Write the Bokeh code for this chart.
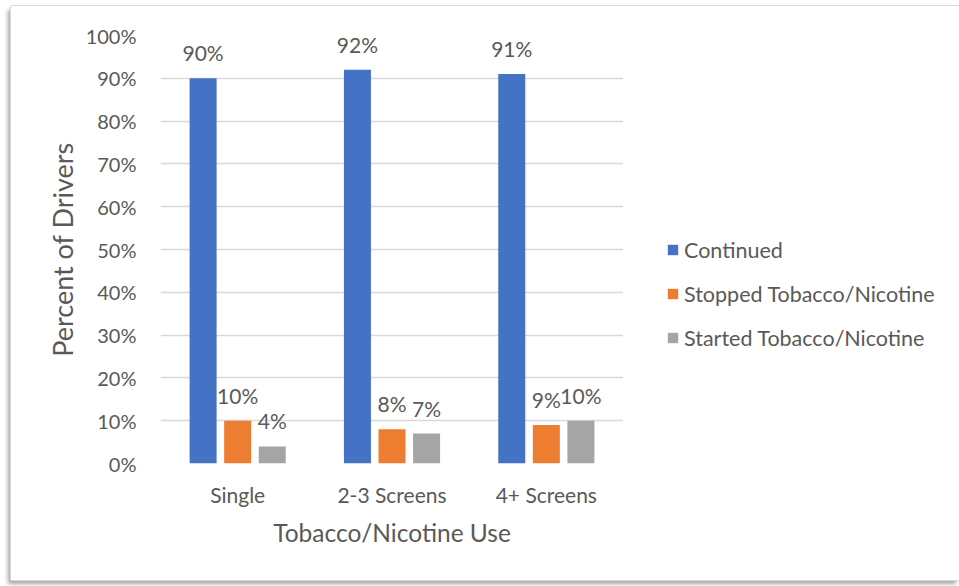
from bokeh.plotting import figure
from bokeh.layouts import row
from bokeh.models import (ColumnDataSource, FactorRange, Range1d, Legend, LegendItem,
                          LabelSet, FixedTicker, InlineStyleSheet)
from bokeh.core.properties import value
from bokeh.transform import dodge
from bokeh.embed import file_html
from bokeh.resources import INLINE

# Share of drivers by screening group and change in tobacco/nicotine use
categories = ["Single", "2-3 Screens", "4+ Screens"]
continued = [90, 92, 91]
stopped = [10, 8, 9]
started = [4, 7, 10]
series_names = ["Continued", "Stopped Tobacco/Nicotine", "Started Tobacco/Nicotine"]
series_colors = ["#4472C4", "#ED7D31", "#A5A5A5"]
y_ticks = [0, 10, 20, 30, 40, 50, 60, 70, 80, 90, 100]

FONT = "Lato"
TEXT = "#595959"

source = ColumnDataSource(data=dict(
    cat=categories,
    continued=continued,
    stopped=stopped,
    started=started,
    continued_lbl=[f"{v}%" for v in continued],
    stopped_lbl=[f"{v}%" for v in stopped],
    started_lbl=[f"{v}%" for v in started],
))
cols = ["continued", "stopped", "started"]
offsets = [-0.224, 0.0, 0.224]

# --- chart panel ---
p = figure(
    x_range=FactorRange(*categories, range_padding=0),
    y_range=Range1d(0, 100),
    width=612, height=574,
    output_backend="svg", toolbar_location=None,
    min_border_left=149, min_border_right=0,
    min_border_top=29, min_border_bottom=117,
)
p.outline_line_color = None
p.background_fill_color = "white"
p.border_fill_color = "white"

for col, off, color in zip(cols, offsets, series_colors):
    p.vbar(x=dodge("cat", off, range=p.x_range), top=col, width=0.175,
           source=source, fill_color=color, line_color=None)
    labels = LabelSet(x=dodge("cat", off, range=p.x_range), y=col, text=f"{col}_lbl",
                      source=source, text_align="center", text_baseline="alphabetic",
                      y_offset=17, text_font=value(FONT), text_font_size=value("21px"),
                      text_color=value(TEXT))
    p.add_layout(labels)

p.yaxis.ticker = FixedTicker(ticks=y_ticks)
p.yaxis.major_label_overrides = {v: f"{v}%" for v in y_ticks}
for ax in (p.xaxis[0], p.yaxis[0]):
    ax.axis_line_color = None
    ax.major_tick_line_color = None
    ax.minor_tick_line_color = None
    ax.major_label_text_font = FONT
    ax.major_label_text_color = TEXT
    ax.axis_label_text_font = FONT
    ax.axis_label_text_color = TEXT
    ax.axis_label_text_font_style = "normal"

p.yaxis.major_label_text_font_size = "20px"
p.yaxis.major_label_standoff = 18
p.yaxis.axis_label = "Percent of Drivers"
p.yaxis.axis_label_text_font_size = "27px"
p.yaxis.axis_label_standoff = 4

p.xaxis.major_label_text_font_size = "21px"
p.xaxis.major_label_standoff = 12
p.xaxis.axis_label = "Tobacco/Nicotine Use"
p.xaxis.axis_label_text_font_size = "24.5px"
p.xaxis.axis_label_standoff = 8

p.xgrid.grid_line_color = None
p.ygrid.grid_line_color = "#D9D9D9"
p.ygrid.grid_line_width = 1.5

# --- legend panel: keys bound to the same series; its x range has no matching
# categories, so only the legend keys are drawn here ---
lg = figure(
    x_range=FactorRange("legend"), y_range=Range1d(0, 100),
    width=336, height=574,
    output_backend="svg", toolbar_location=None,
    min_border=0,
)
lg.axis.visible = False
lg.grid.visible = False
lg.outline_line_color = None
lg.border_fill_color = "white"

keys = [lg.vbar(x="cat", top=col, width=0.175, source=source,
                fill_color=c, line_color=None)
        for col, c in zip(cols, series_colors)]
legend = Legend(
    items=[LegendItem(label=n, renderers=[k]) for n, k in zip(series_names, keys)],
    location=(43, 112.5),
    orientation="vertical",
    border_line_color=None, background_fill_alpha=0,
    padding=0, margin=0,
    glyph_width=13, glyph_height=13, label_standoff=5,
    spacing=18,
    label_text_font=FONT, label_text_font_size="21.5px", label_text_color=TEXT,
)
lg.add_layout(legend, "center")

frame_css = InlineStyleSheet(css="""
:host {
  box-shadow: 0 -1px 0 #d9d9d9, -1px 0 0 #d9d9d9, 0 1px 0 #d9d9d9,
              -3px 4px 4px rgba(0,0,0,0.35);
}
""")
layout = row(p, lg)
layout.margin = (6, 0, 0, 11)
layout.stylesheets = [frame_css]

open("out.html", "w").write(file_html(layout, INLINE))
